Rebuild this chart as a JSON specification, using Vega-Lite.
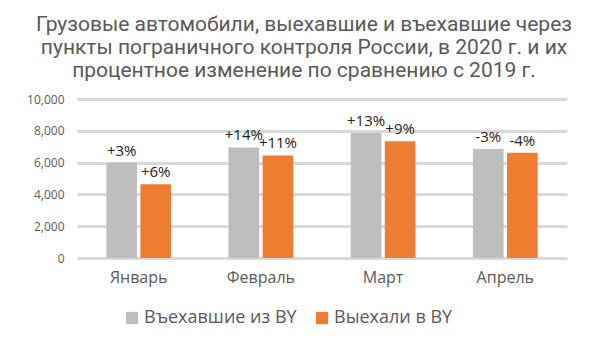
{
  "$schema": "https://vega.github.io/schema/vega-lite/v6.json",
  "width": 490,
  "height": 159,
  "autosize": "none",
  "padding": {"left": 77, "top": 99, "right": 43, "bottom": 81},
  "background": "white",
  "title": {
    "text": ["Грузовые автомобили, выехавшие и въехавшие через", "пункты пограничного контроля России, в 2020 г. и их", "процентное изменение по сравнению с 2019 г."],
    "font": "Roboto",
    "fontSize": 21,
    "fontWeight": "normal",
    "color": "#595959",
    "lineHeight": 23,
    "anchor": "middle",
    "dx": -18,
    "offset": 12
  },
  "data": {
    "values": [
      {"month": "Январь", "series": "Въехавшие из BY", "value": 6000, "label": "+3%"},
      {"month": "Январь", "series": "Выехали в BY", "value": 4640, "label": "+6%"},
      {"month": "Февраль", "series": "Въехавшие из BY", "value": 6950, "label": "+14%"},
      {"month": "Февраль", "series": "Выехали в BY", "value": 6450, "label": "+11%"},
      {"month": "Март", "series": "Въехавшие из BY", "value": 7880, "label": "+13%"},
      {"month": "Март", "series": "Выехали в BY", "value": 7350, "label": "+9%"},
      {"month": "Апрель", "series": "Въехавшие из BY", "value": 6850, "label": "-3%"},
      {"month": "Апрель", "series": "Выехали в BY", "value": 6620, "label": "-4%"}
    ]
  },
  "encoding": {
    "x": {
      "field": "month", "type": "nominal", "sort": ["Январь", "Февраль", "Март", "Апрель"],
      "scale": {"paddingInner": 0.47, "paddingOuter": 0.24},
      "axis": {"title": null, "labelAngle": 0, "ticks": false, "domain": false, "labelFont": "Open Sans", "labelFontSize": 16, "labelColor": "#595959", "labelPadding": 11}
    },
    "xOffset": {"field": "series", "type": "nominal", "sort": ["Въехавшие из BY", "Выехали в BY"], "scale": {"paddingInner": 0.1}},
    "y": {
      "field": "value", "type": "quantitative",
      "scale": {"domain": [0, 10000]},
      "axis": {"title": null, "values": [0, 2000, 4000, 6000, 8000, 10000], "format": ",d", "ticks": false, "domain": false, "labelFont": "Open Sans", "labelFontSize": 12, "labelColor": "#595959", "labelPadding": 13, "gridColor": "#d9d9d9", "gridWidth": 3}
    }
  },
  "layer": [
    {
      "mark": {"type": "bar"},
      "encoding": {
        "color": {
          "field": "series", "type": "nominal",
          "scale": {"domain": ["Въехавшие из BY", "Выехали в BY"], "range": ["#bfbebf", "#ed7d31"]},
          "legend": {
            "title": null, "orient": "none", "direction": "horizontal", "legendX": 46, "legendY": 210,
            "symbolType": "square", "symbolSize": 150, "symbolStrokeWidth": 0, "symbolOpacity": 1,
            "labelFont": "Open Sans", "labelFontSize": 18, "labelColor": "#595959", "columnPadding": 16, "labelOffset": 3
          }
        }
      }
    },
    {
      "mark": {"type": "text", "baseline": "bottom", "dy": -4, "font": "Open Sans", "fontSize": 15, "color": "#222222"},
      "encoding": {"text": {"field": "label"}}
    }
  ],
  "config": {"view": {"stroke": null}}
}
